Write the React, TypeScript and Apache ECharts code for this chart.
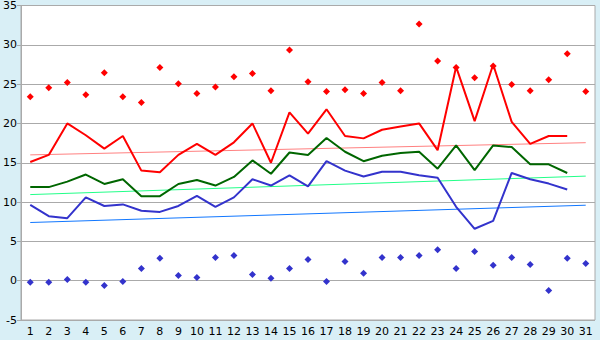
import React, { useEffect, useRef } from "react";
import * as echarts from "echarts";

const days = Array.from({ length: 31 }, (_, i) => String(i + 1));

const maxLine = [15.1, 16.0, 20.0, 18.5, 16.8, 18.4, 14.0, 13.8, 16.0, 17.4, 16.0, 17.6, 20.0, 15.0, 21.4, 18.7, 21.8, 18.4, 18.1, 19.2, 19.6, 20.0, 16.6, 27.2, 20.3, 27.5, 20.2, 17.4, 18.4, 18.4];
const meanLine = [11.9, 11.9, 12.6, 13.5, 12.3, 12.9, 10.75, 10.75, 12.3, 12.8, 12.1, 13.2, 15.3, 13.6, 16.3, 16.0, 18.15, 16.4, 15.2, 15.9, 16.25, 16.4, 14.25, 17.2, 14.05, 17.2, 17.0, 14.8, 14.8, 13.7];
const minLine = [9.65, 8.2, 7.95, 10.6, 9.5, 9.7, 8.9, 8.75, 9.5, 10.8, 9.4, 10.6, 12.9, 12.1, 13.4, 12.0, 15.2, 14.0, 13.25, 13.85, 13.85, 13.4, 13.1, 9.4, 6.6, 7.6, 13.7, 12.9, 12.35, 11.6];
const maxPoints = [23.4, 24.55, 25.2, 23.65, 26.45, 23.4, 22.65, 27.1, 25.05, 23.8, 24.65, 25.95, 26.35, 24.15, 29.35, 25.3, 24.05, 24.3, 23.8, 25.2, 24.15, 32.65, 27.95, 27.1, 25.8, 27.3, 24.95, 24.15, 25.55, 28.85, 24.05];
const minPoints = [-0.2, -0.2, 0.15, -0.2, -0.6, -0.1, 1.55, 2.85, 0.65, 0.4, 2.95, 3.2, 0.8, 0.3, 1.55, 2.7, -0.1, 2.45, 0.95, 2.95, 2.95, 3.2, 3.95, 1.55, 3.7, 1.95, 2.95, 2.05, -1.25, 2.85, 2.2];

// trend lines: value at day 1 and day 31
const maxTrendEnds = [16.0, 17.55];
const meanTrendEnds = [10.95, 13.3];
const minTrendEnds = [7.4, 9.6];

const yTicks = { min: -5, max: 35, interval: 5 };

function trend(ends: number[]) {
  return days.map((_, i) => (i === 0 ? ends[0] : i === days.length - 1 ? ends[1] : null));
}

export default function App() {
  const ref = useRef<HTMLDivElement>(null);
  useEffect(() => {
    document.body.style.margin = "0";
    const chart = echarts.init(ref.current!, null, { renderer: "svg" });
    const font = "DejaVu Sans";
    chart.setOption({
      animation: false,
      backgroundColor: "#d9eff6",
      grid: {
        left: 20,
        right: 5,
        top: 5,
        bottom: 20,
        show: true,
        backgroundColor: "#ffffff",
        borderColor: "#aaaaaa",
        borderWidth: 1,
      },
      xAxis: {
        type: "category",
        data: days,
        boundaryGap: true,
        axisLine: { lineStyle: { color: "#aaaaaa" } },
        axisTick: { alignWithLabel: true, length: 5, lineStyle: { color: "#000000" } },
        axisLabel: { color: "#000000", fontFamily: font, fontSize: 11, margin: 6, interval: 0 },
        splitLine: { show: false },
      },
      yAxis: {
        type: "value",
        min: yTicks.min,
        max: yTicks.max,
        interval: yTicks.interval,
        axisLine: { show: true, lineStyle: { color: "#aaaaaa" } },
        axisTick: { show: true, length: 4, lineStyle: { color: "#aaaaaa" } },
        axisLabel: { color: "#000000", fontFamily: font, fontSize: 11, margin: 4 },
        splitLine: { lineStyle: { color: "#aaaaaa", width: 1 } },
      },
      series: [
        { type: "line", data: trend(maxTrendEnds), connectNulls: true, showSymbol: false, lineStyle: { color: "#ff8080", width: 1 }, z: 1 },
        { type: "line", data: trend(meanTrendEnds), connectNulls: true, showSymbol: false, lineStyle: { color: "#22ff88", width: 1 }, z: 1 },
        { type: "line", data: trend(minTrendEnds), connectNulls: true, showSymbol: false, lineStyle: { color: "#1177ff", width: 1 }, z: 1 },
        { type: "line", data: maxLine, showSymbol: false, lineStyle: { color: "#ff0000", width: 2 }, z: 2 },
        { type: "line", data: meanLine, showSymbol: false, lineStyle: { color: "#006600", width: 2 }, z: 2 },
        { type: "line", data: minLine, showSymbol: false, lineStyle: { color: "#3333cc", width: 2 }, z: 2 },
        { type: "scatter", data: maxPoints, symbol: "diamond", symbolSize: 7, itemStyle: { color: "#ff0000", opacity: 1 }, z: 3 },
        { type: "scatter", data: minPoints, symbol: "diamond", symbolSize: 7, itemStyle: { color: "#3333cc", opacity: 1 }, z: 3 },
      ],
    });
    return () => chart.dispose();
  }, []);
  return <div ref={ref} style={{ width: 600, height: 340 }} />;
}
